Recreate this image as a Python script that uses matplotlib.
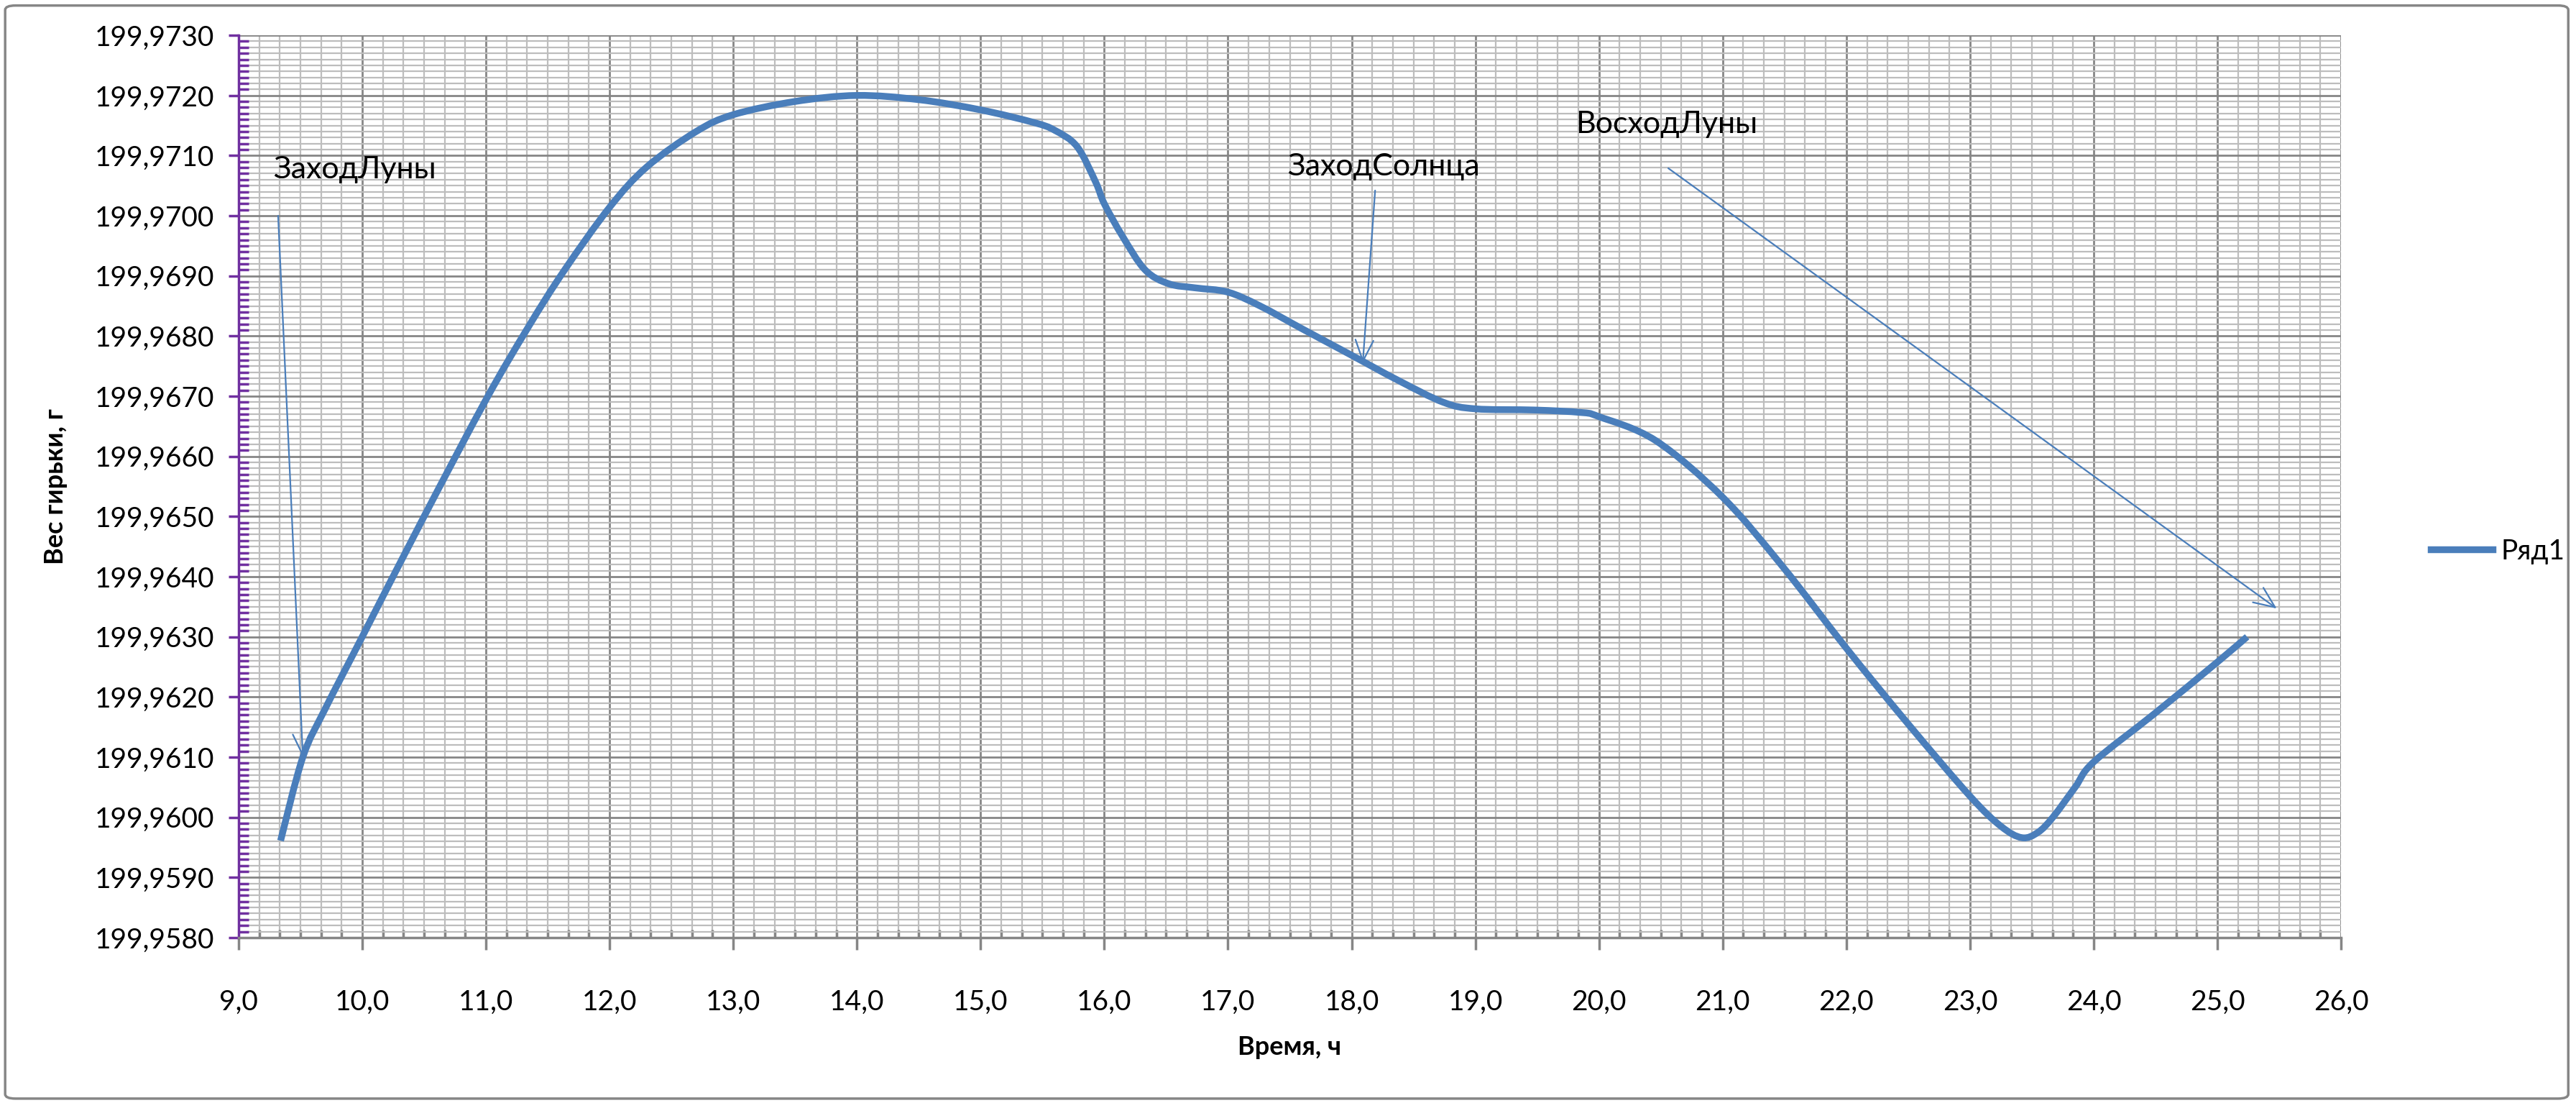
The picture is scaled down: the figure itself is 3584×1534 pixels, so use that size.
import numpy as np
import matplotlib
matplotlib.use('Agg')
import matplotlib.pyplot as plt
from matplotlib.ticker import MultipleLocator, FuncFormatter
from matplotlib.patches import FancyBboxPatch, PathPatch
from matplotlib.path import Path
from matplotlib.lines import Line2D

plt.rcParams['font.family'] = ['Lato', 'DejaVu Sans']

# время, ч
hours = [9.34, 9.52, 9.70, 10.0, 10.5, 11.0, 11.34, 11.63, 12.0, 12.3,
         12.7, 13.0, 13.5, 14.0, 14.5, 15.0, 15.43, 15.6, 15.78, 15.93,
         16.0, 16.15, 16.33, 16.52, 16.74, 17.0, 17.26, 17.6, 18.0, 18.37,
         18.74, 19.0, 19.48, 19.85, 20.0, 20.46, 21.0, 21.48, 22.0, 22.5,
         23.0, 23.25, 23.42, 23.55, 23.67, 23.85, 24.0, 24.49, 25.0, 25.24]
# вес гирьки, г
weight = [199.95961, 199.96100, 199.96180, 199.96300, 199.96500, 199.96694,
          199.96814, 199.96908, 199.97014, 199.97081, 199.97140, 199.97168,
          199.97190, 199.97200, 199.97193, 199.97176, 199.97155, 199.97142,
          199.97115, 199.97056, 199.97020, 199.96965, 199.96910, 199.96887,
          199.96880, 199.96873, 199.96850, 199.96812, 199.96768, 199.96727,
          199.96690, 199.96679, 199.96677, 199.96673, 199.96666, 199.96626,
          199.96532, 199.96418, 199.96281, 199.96155, 199.96035, 199.95985,
          199.95966, 199.95975, 199.96000, 199.96050, 199.96092, 199.96172,
          199.96258, 199.96300]

series_name = 'Ряд1'

# подписи: текст, позиция текста, начало стрелки, конец стрелки
notes = ['ЗаходЛуны', 'ЗаходСолнца', 'ВосходЛуны']
note_xy = [(9.28, 199.97077), (17.48, 199.97081), (19.81, 199.97152)]
arrow_from = [(9.32, 199.97000), (18.19, 199.97042), (20.56, 199.97079)]
arrow_to = [(9.52, 199.96100), (18.09, 199.96755), (25.48, 199.96347)]

blue = '#4A7EBB'
purple = '#7030A0'
grid_major = '#868686'
grid_minor = '#BDBDBD'


def smooth_path(xs, ys):
    # сглаженная линия как в Excel: кубические кривые Безье через точки
    p = np.column_stack([xs, ys])
    n = len(p)
    verts = [p[0]]
    codes = [Path.MOVETO]
    for i in range(n - 1):
        a = p[i - 1] if i > 0 else p[i]
        d = p[i + 2] if i + 2 < n else p[i + 1]
        c1 = p[i] + (p[i + 1] - a) / 6
        c2 = p[i + 1] - (d - p[i]) / 6
        verts += [c1, c2, p[i + 1]]
        codes += [Path.CURVE4] * 3
    return Path(verts, codes)


fig = plt.figure(figsize=(35.84, 15.34), dpi=100)
ax = fig.add_axes([0.0926, 0.150, 0.8162, 0.818])

ax.add_patch(PathPatch(smooth_path(hours, weight), fill=False, ec=blue, lw=6.8,
                       capstyle='butt', joinstyle='round', zorder=5))

ax.set_xlim(9.0, 26.0)
ax.set_ylim(199.9580, 199.9730)
ax.xaxis.set_major_locator(MultipleLocator(1.0))
ax.xaxis.set_minor_locator(MultipleLocator(1 / 6))
ax.yaxis.set_major_locator(MultipleLocator(0.001))
ax.yaxis.set_minor_locator(MultipleLocator(0.0001))
ax.xaxis.set_major_formatter(FuncFormatter(lambda v, p: '{:.1f}'.format(v).replace('.', ',')))
ax.yaxis.set_major_formatter(FuncFormatter(lambda v, p: '{:.4f}'.format(v).replace('.', ',')))

ax.grid(which='minor', color=grid_minor, lw=1.6, zorder=0)
ax.grid(which='major', color=grid_major, lw=2.0, zorder=1)
ax.set_axisbelow(True)

for s in ['top', 'right']:
    ax.spines[s].set_visible(False)
ax.spines['left'].set_color(purple)
ax.spines['left'].set_linewidth(2.5)
ax.spines['bottom'].set_color(grid_major)
ax.spines['bottom'].set_linewidth(2.5)

ax.tick_params(axis='y', which='major', direction='out', length=10, width=2.5,
               color=purple, labelsize=28, pad=14)
ax.tick_params(axis='y', which='minor', direction='in', length=10, width=2.5, color=purple)
ax.tick_params(axis='x', which='major', direction='out', length=12, width=2.5,
               color=grid_major, labelsize=28, pad=40)
ax.tick_params(axis='x', which='minor', direction='in', length=8, width=2.5, color=grid_major)

ax.set_xlabel('Время, ч', fontsize=26, fontweight='bold', labelpad=20)
ax.set_ylabel('Вес гирьки, г', fontsize=26, fontweight='bold', labelpad=27)

for t, pos, a0, a1 in zip(notes, note_xy, arrow_from, arrow_to):
    ax.text(pos[0], pos[1], t, fontsize=31, va='center', ha='left', zorder=6)
    ax.annotate('', xy=a1, xytext=a0,
                arrowprops=dict(arrowstyle='->,head_length=0.7,head_width=0.3',
                                color=blue, lw=1.6, mutation_scale=30,
                                shrinkA=0, shrinkB=0), zorder=6)

handle = Line2D([], [], color=blue, lw=6.8)
fig.legend([handle], [series_name], loc='center left', bbox_to_anchor=(0.934, 0.5),
           frameon=False, fontsize=28, handlelength=2.2, handletextpad=0.3)

frame = FancyBboxPatch((0.002, 0.004), 0.995, 0.991, boxstyle='round,pad=0,rounding_size=0.004',
                       transform=fig.transFigure, fill=False, ec=grid_major, lw=2.5)
fig.patches.append(frame)

fig.savefig('out.png', dpi=100, facecolor='white')
